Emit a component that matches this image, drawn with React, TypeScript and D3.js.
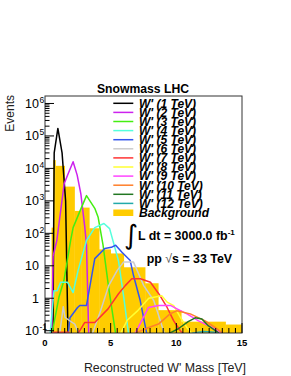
import React, { useEffect, useRef } from 'react';
import * as d3 from 'd3';

// background histogram: bin edges in TeV and events per bin
const bgEdges = [0.5, 0.625, 0.8, 1.5, 2.25, 2.75, 3.375, 4.125, 5.0, 6.0, 7.625, 8.625, 10.375, 13.75, 15];
const bgCounts = [150, 18000, 12000, 2750, 490, 620, 143, 32, 24, 9, 2.9, 0.43, 0.19, 0.155];

// signal shapes: [reconstructed mass (TeV), events]
const w1 = [[0.6, 0.05], [0.7, 30000], [0.98, 170000], [1.3, 30000], [1.57, 1000], [1.75, 0.07]];
const w2 = [[0.5, 0.05], [0.62, 20], [0.9, 60], [1.46, 3400], [1.77, 7000], [2.14, 16000], [2.45, 6200], [2.73, 1650], [3.03, 155], [3.16, 43], [3.33, 0.07]];
const w3 = [[0.53, 0.08], [1.06, 1.07], [1.44, 3.5], [1.95, 60], [2.14, 150], [2.78, 630], [3.16, 1450], [3.79, 590], [4.04, 320], [4.42, 43], [4.85, 2.1], [5.38, 0.08]];
const w4 = [[0.35, 0.05], [0.68, 1.7], [0.93, 1.7], [1.19, 3.1], [1.72, 3.1], [2.14, 1.5], [2.52, 7.2], [3.16, 60], [3.79, 150], [4.49, 200], [4.92, 140], [5.6, 14], [6.0, 1.05], [6.36, 0.08]];
const w5 = [[1.72, 0.05], [1.9, 0.25], [2.48, 0.52], [2.65, 0.6], [3.16, 0.6], [3.79, 16.6], [4.55, 34], [5.05, 37], [5.38, 43], [5.86, 26], [6.49, 14.5], [6.74, 5], [7.25, 0.85], [7.75, 0.08]];
const w6 = [[1.05, 0.05], [1.39, 0.55], [1.52, 0.26], [1.89, 0.2], [2.27, 0.16], [2.52, 0.09], [2.8, 0.03], [3.4, 0.03], [3.6, 0.08], [4.24, 0.42], [4.85, 2.45], [5.5, 7.2], [5.98, 13], [6.74, 13], [7.52, 2.45], [8.28, 0.85], [8.79, 0.2], [9.09, 0.08]];
const w7 = [[0.4, 0.01], [0.6, 0.09], [1.8, 0.09], [2.2, 0.05], [2.5, 0.08], [3.03, 0.18], [3.79, 0.18], [4.8, 0.47], [5.6, 1.38], [6.11, 2.45], [6.61, 4], [7.27, 4], [8.03, 3.1], [8.66, 1.38], [9.3, 0.52], [9.8, 0.2], [10.3, 0.1], [10.75, 0.065]];
const w8 = [[5.5, 0.05], [5.76, 0.083], [6.26, 0.21], [7.02, 0.4], [7.9, 1.0], [8.89, 1.2], [9.3, 0.76], [9.8, 0.59], [10.3, 0.26], [10.8, 0.126], [11.2, 0.08]];
const w9 = [[6.5, 0.05], [6.87, 0.083], [7.88, 0.52], [8.64, 0.6], [9.55, 0.6], [10.05, 0.47], [10.81, 0.33], [11.69, 0.2], [12.7, 0.126], [13.33, 0.087], [13.6, 0.06]];
const w10 = [[6.5, 0.072], [7.9, 0.126], [8.64, 0.16], [9.52, 0.33], [10.02, 0.41], [11.06, 0.33], [12.2, 0.2], [12.95, 0.126], [13.48, 0.087], [13.7, 0.06]];
const w11 = [[9.17, 0.072], [10.15, 0.115], [10.9, 0.19], [11.44, 0.25], [11.95, 0.23], [12.45, 0.14], [13.2, 0.087], [13.5, 0.06]];
const w12 = [[10.6, 0.07], [11.3, 0.085], [12.1, 0.095], [12.9, 0.09], [13.5, 0.07]];

const signals = [w1, w2, w3, w4, w5, w6, w7, w8, w9, w10, w11, w12];
const signalLabels = ["W' (1 TeV)", "W' (2 TeV)", "W' (3 TeV)", "W' (4 TeV)", "W' (5 TeV)", "W' (6 TeV)",
  "W' (7 TeV)", "W' (8 TeV)", "W' (9 TeV)", "W' (10 TeV)", "W' (11 TeV)", "W' (12 TeV)"];
const signalColors = ['#000000', '#cc22ee', '#44ee11', '#55ffdd', '#3355ee', '#cccccc',
  '#ff3333', '#ffff33', '#ff44ff', '#ff7f2a', '#227722', '#22aaaa'];
const bgColor = '#ffcc00';

const xTicks = [0, 5, 10, 15];
const yTickExps = [-1, 0, 1, 2, 3, 4, 5, 6];

const FONT = 'Liberation Sans, Arial, Helvetica, sans-serif';

export default function App() {
  const ref = useRef(null);

  useEffect(() => {
    const width = 291;
    const height = 376;
    const frame = { left: 45, right: 242, top: 96, bottom: 333 };

    const svg = d3.select(ref.current)
      .attr('width', width)
      .attr('height', height);
    svg.selectAll('*').remove();

    svg.append('rect').attr('width', width).attr('height', height).attr('fill', '#ffffff');

    const x = d3.scaleLinear().domain([0, 15]).range([frame.left, frame.right]);
    const y = d3.scaleLog().domain([0.085, 1.7e6]).range([frame.bottom, frame.top]);

    svg.append('clipPath').attr('id', 'plotclip')
      .append('rect')
      .attr('x', frame.left).attr('y', frame.top)
      .attr('width', frame.right - frame.left).attr('height', frame.bottom - frame.top);

    const plot = svg.append('g').attr('clip-path', 'url(#plotclip)');

    // background histogram
    plot.selectAll('rect.bg')
      .data(bgCounts)
      .enter()
      .append('rect')
      .attr('class', 'bg')
      .attr('x', (d, i) => x(bgEdges[i]))
      .attr('width', (d, i) => x(bgEdges[i + 1]) - x(bgEdges[i]) + 0.3)
      .attr('y', d => y(d))
      .attr('height', d => frame.bottom - y(d))
      .attr('fill', bgColor);

    // signal lines
    const line = d3.line()
      .x(d => x(d[0]))
      .y(d => y(d[1]));

    plot.selectAll('path.sig')
      .data(signals)
      .enter()
      .append('path')
      .attr('class', 'sig')
      .attr('d', d => line(d))
      .attr('fill', 'none')
      .attr('stroke', (d, i) => signalColors[i])
      .attr('stroke-width', 1.5)
      .attr('stroke-linejoin', 'round');

    // frame
    svg.append('rect')
      .attr('x', frame.left).attr('y', frame.top)
      .attr('width', frame.right - frame.left).attr('height', frame.bottom - frame.top)
      .attr('fill', 'none')
      .attr('stroke', '#333')
      .attr('stroke-width', 1);

    const ticks = svg.append('g').attr('stroke', '#000').attr('stroke-width', 1);

    // x ticks (inside, from bottom)
    d3.range(0, 15.01, 0.5).forEach(v => {
      const major = Math.abs(v % 5) < 1e-6;
      ticks.append('line')
        .attr('x1', x(v)).attr('x2', x(v))
        .attr('y1', frame.bottom).attr('y2', frame.bottom - (major ? 10 : 5));
    });

    // y ticks (log)
    d3.range(-1, 7).forEach(e => {
      d3.range(1, 10).forEach(m => {
        const v = m * Math.pow(10, e);
        if (v < 0.085 || v > 1.7e6) return;
        ticks.append('line')
          .attr('x1', frame.left).attr('x2', frame.left + (m === 1 ? 9 : 4.5))
          .attr('y1', y(v)).attr('y2', y(v));
      });
    });

    // x tick labels
    svg.append('g')
      .selectAll('text')
      .data(xTicks)
      .enter()
      .append('text')
      .attr('x', d => x(d))
      .attr('y', 346)
      .attr('text-anchor', 'middle')
      .attr('font-family', FONT)
      .attr('font-weight', 'bold')
      .attr('font-size', 9.5)
      .text(d => d);

    // y tick labels
    const yl = svg.append('g').attr('font-family', FONT).attr('fill', '#000');
    yTickExps.forEach(e => {
      const yy = y(Math.pow(10, e)) + 4.5;
      const base = e === 0 ? '1' : '10';
      yl.append('text')
        .attr('x', 39).attr('y', yy)
        .attr('text-anchor', 'end')
        .attr('font-size', 12.5)
        .text(base);
      if (e !== 0 && e !== 1) {
        yl.append('text')
          .attr('x', 39.5).attr('y', yy - 5)
          .attr('font-size', 8.5)
          .text(String(e));
      }
    });

    // axis titles
    svg.append('text')
      .attr('x', 246).attr('y', 372)
      .attr('text-anchor', 'end')
      .attr('font-family', FONT)
      .attr('font-size', 12.4)
      .attr('fill', '#222')
      .text("Reconstructed W' Mass [TeV]");

    svg.append('text')
      .attr('transform', 'translate(13.5,95) rotate(-90)')
      .attr('text-anchor', 'end')
      .attr('font-family', FONT)
      .attr('font-size', 12)
      .attr('fill', '#222')
      .text('Events');

    svg.append('text')
      .attr('x', 143).attr('y', 92.5)
      .attr('text-anchor', 'middle')
      .attr('font-family', FONT)
      .attr('font-weight', 'bold')
      .attr('font-size', 12.2)
      .text('Snowmass LHC');

    // legend
    const leg = svg.append('g');
    const rowY = i => 103.3 + 9.1 * i;
    signalLabels.forEach((lab, i) => {
      leg.append('line')
        .attr('x1', 113.3).attr('x2', 133.3)
        .attr('y1', rowY(i)).attr('y2', rowY(i))
        .attr('stroke', signalColors[i])
        .attr('stroke-width', 1.5);
      leg.append('text')
        .attr('x', 139).attr('y', rowY(i) + 4.3)
        .attr('font-family', FONT)
        .attr('font-style', 'italic')
        .attr('font-weight', 'bold')
        .attr('font-size', 12)
        .text(lab);
    });
    leg.append('rect')
      .attr('x', 113.3).attr('y', rowY(12) - 3)
      .attr('width', 20).attr('height', 6.5)
      .attr('fill', bgColor);
    leg.append('text')
      .attr('x', 139).attr('y', rowY(12) + 4.3)
      .attr('font-family', FONT)
      .attr('font-style', 'italic')
      .attr('font-weight', 'bold')
      .attr('font-size', 12)
      .text('Background');

    // luminosity / energy
    svg.append('text')
      .attr('x', 124).attr('y', 244)
      .attr('font-family', 'DejaVu Sans, sans-serif')
      .attr('font-size', 27)
      .text('∫');
    const lumi = svg.append('text')
      .attr('x', 138).attr('y', 240)
      .attr('font-family', FONT)
      .attr('font-weight', 'bold')
      .attr('font-size', 12.4);
    lumi.append('tspan').text('L dt = 3000.0 fb');
    lumi.append('tspan').attr('dy', -5).attr('font-size', 8).text('-1');

    const energy = svg.append('text')
      .attr('x', 146.7).attr('y', 263.3)
      .attr('font-family', FONT)
      .attr('font-weight', 'bold')
      .attr('font-size', 12.4);
    energy.append('tspan').text('pp ');
    energy.append('tspan').attr('font-weight', 'normal').attr('fill', '#555').text('√');
    energy.append('tspan').text('s = 33 TeV');
  }, []);

  return (
    <div style={{ position: 'absolute', left: 0, top: 0 }}>
      <svg ref={ref} />
    </div>
  );
}
